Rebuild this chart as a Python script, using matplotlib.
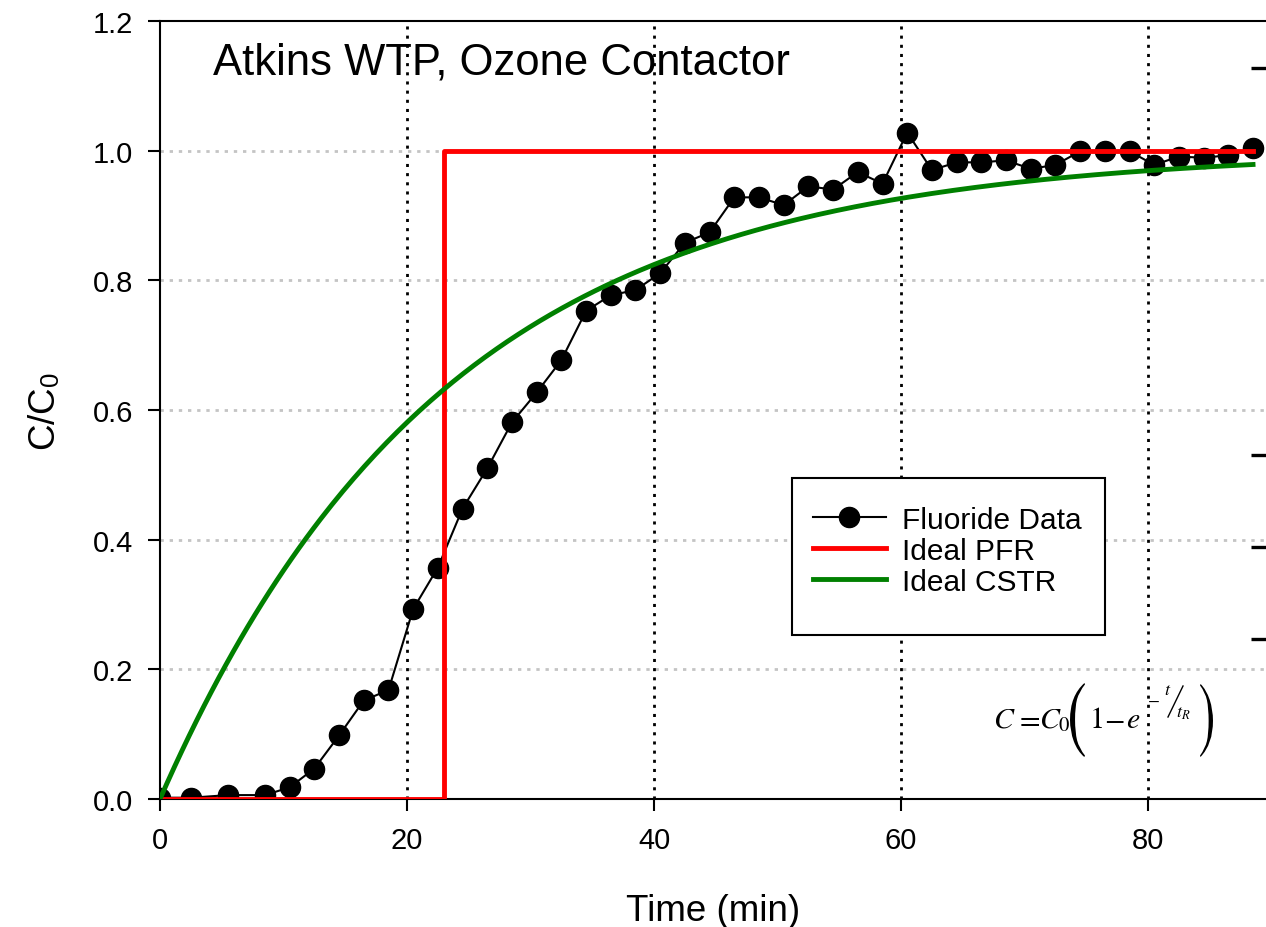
import numpy as np
import matplotlib
matplotlib.use("Agg")
import matplotlib.pyplot as plt
from matplotlib.textpath import TextPath
from matplotlib.font_manager import FontProperties
from matplotlib.patches import PathPatch, Rectangle
from matplotlib.lines import Line2D
from matplotlib.transforms import Affine2D

plt.rcParams['font.family'] = ['Liberation Sans', 'DejaVu Sans']
plt.rcParams['mathtext.fontset'] = 'stix'

# ---- data ----
time_min = [0, 2.5, 5.5, 8.5, 10.5, 12.5, 14.5, 16.5, 18.5, 20.5, 22.5, 24.5,
            26.5, 28.5, 30.5, 32.5, 34.5, 36.5, 38.5, 40.5, 42.5, 44.5, 46.5,
            48.5, 50.5, 52.5, 54.5, 56.5, 58.5, 60.5, 62.5, 64.5, 66.5, 68.5,
            70.5, 72.5, 74.5, 76.5, 78.5, 80.5, 82.5, 84.5, 86.5, 88.5]
fluoride = [0.002, 0.002, 0.006, 0.006, 0.018, 0.047, 0.098, 0.152, 0.168,
            0.293, 0.357, 0.448, 0.510, 0.581, 0.627, 0.677, 0.753, 0.777,
            0.785, 0.811, 0.858, 0.874, 0.928, 0.928, 0.916, 0.945, 0.940,
            0.967, 0.949, 1.028, 0.970, 0.982, 0.982, 0.985, 0.972, 0.978,
            0.999, 0.999, 0.999, 0.978, 0.991, 0.989, 0.993, 1.004]
t_R = 23.0
t_end = 88.5
pfr_t = [0, t_R, t_R, t_end]
pfr_c = [0, 0, 1, 1]
cstr_t = np.linspace(0, t_end, 300)
cstr_c = 1 - np.exp(-cstr_t / t_R)

x_ticks = [0, 20, 40, 60, 80]
y_ticks = [0.0, 0.2, 0.4, 0.6, 0.8, 1.0, 1.2]
right_marks = [0.2465, 0.3884, 0.5309, 1.1276]

W, H = 1266, 928
fig = plt.figure(figsize=(W / 100, H / 100), dpi=100)
ax = fig.add_axes([160 / W, 128 / H, 1106 / W, 778 / H])

# grids
for v in [0.2, 0.4, 0.6, 0.8, 1.0]:
    ax.axhline(v, color='#c4c4c4', lw=2.0, linestyle=(0, (1.2, 2.1)), zorder=0)
for v in [20, 40, 60, 80]:
    ax.axvline(v, color='black', lw=2.0, linestyle=(0, (1.1, 2.2)), zorder=0)

ax.plot(time_min, fluoride, color='black', lw=1.5, marker='o', markersize=14.5,
        label='Fluoride Data', zorder=3)
ax.plot(pfr_t, pfr_c, color='#ff0000', lw=3.5, label='Ideal PFR', zorder=4)
ax.plot(cstr_t, cstr_c, color='#008000', lw=3.5, label='Ideal CSTR', zorder=4)

ax.set_xlim(0, 89.55)
ax.set_ylim(0, 1.2)
ax.set_xticks(x_ticks)
ax.set_xticklabels([str(v) for v in x_ticks])
ax.set_yticks(y_ticks)
ax.set_yticklabels([f"{v:.1f}" for v in y_ticks])
ax.tick_params(direction='out', length=8.5, width=1.5, labelsize=21, pad=11)
for s in ['left', 'bottom', 'top']:
    ax.spines[s].set_linewidth(1.5)
ax.spines['right'].set_visible(False)

ax.set_xlabel('Time (min)', fontsize=26.5, labelpad=28)
ax.set_ylabel('C/C$_\\mathregular{0}$', fontsize=26.5, labelpad=21)


def fx(px):
    return px / W


def fy(py):
    return 1 - py / H


fig.text(fx(213), fy(63), 'Atkins WTP, Ozone Contactor', fontsize=31.4,
         ha='left', va='center')

# equation C = C0 (1 - e^{-t/tR}), composed from pieces
eq_size = 21.5
base = 728
for txt, left in [(r'$C$', 993), (r'$=$', 1015), (r'$C_0$', 1039),
                  (r'$1$', 1089), (r'$-$', 1104), (r'$e$', 1126)]:
    fig.text(fx(left), fy(base), txt, fontsize=eq_size, ha='left', va='baseline')
fig.text(fx(1147), fy(700), r'$-$', fontsize=12.5, ha='left', va='center')
fig.text(fx(1164), fy(695), r'$t$', fontsize=13, ha='left', va='baseline')
fig.text(fx(1176), fy(718), r'$t_R$', fontsize=13, ha='left', va='baseline')
fig.add_artist(Line2D([fx(1168), fx(1183)], [fy(718), fy(687)],
                      transform=fig.transFigure, color='black', lw=1.0))


def big_glyph(ch, x0, x1, ytop, ybot):
    tp = TextPath((0, 0), ch, size=100, prop=FontProperties(family='STIXGeneral'))
    ext = tp.get_extents()
    sx = (x1 - x0) / ext.width
    sy = (ybot - ytop) / ext.height
    tr = Affine2D().translate(-ext.x0, -ext.y0).scale(sx, sy).translate(x0, H - ybot)
    fig.add_artist(PathPatch(tp, transform=tr, facecolor='black', lw=0))


big_glyph('(', 1070, 1085, 684, 758)
big_glyph(')', 1200, 1213, 685, 758)

# legend with a manually sized frame
leg = ax.legend(loc='upper left',
                bbox_to_anchor=((792 - 160) / 1106, (800 - 486) / 778),
                borderaxespad=0, fontsize=21.5, frameon=False,
                borderpad=0.7, handlelength=2.45, labelspacing=0.1,
                handletextpad=0.55)
leg.set_zorder(6)
ax.add_patch(Rectangle((fx(792), fy(636)), (1105 - 792) / W, (636 - 479) / H,
                       transform=fig.transFigure, facecolor='white',
                       edgecolor='black', lw=1.5, zorder=5, clip_on=False))

# stray right-side tick marks
ax2 = ax.twinx()
ax2.set_ylim(0, 1.2)
ax2.set_yticks(right_marks)
ax2.set_yticklabels([])
ax2.tick_params(axis='y', direction='in', length=11, width=2.4)
for s in ax2.spines.values():
    s.set_visible(False)

fig.savefig('out.png', dpi=100)
